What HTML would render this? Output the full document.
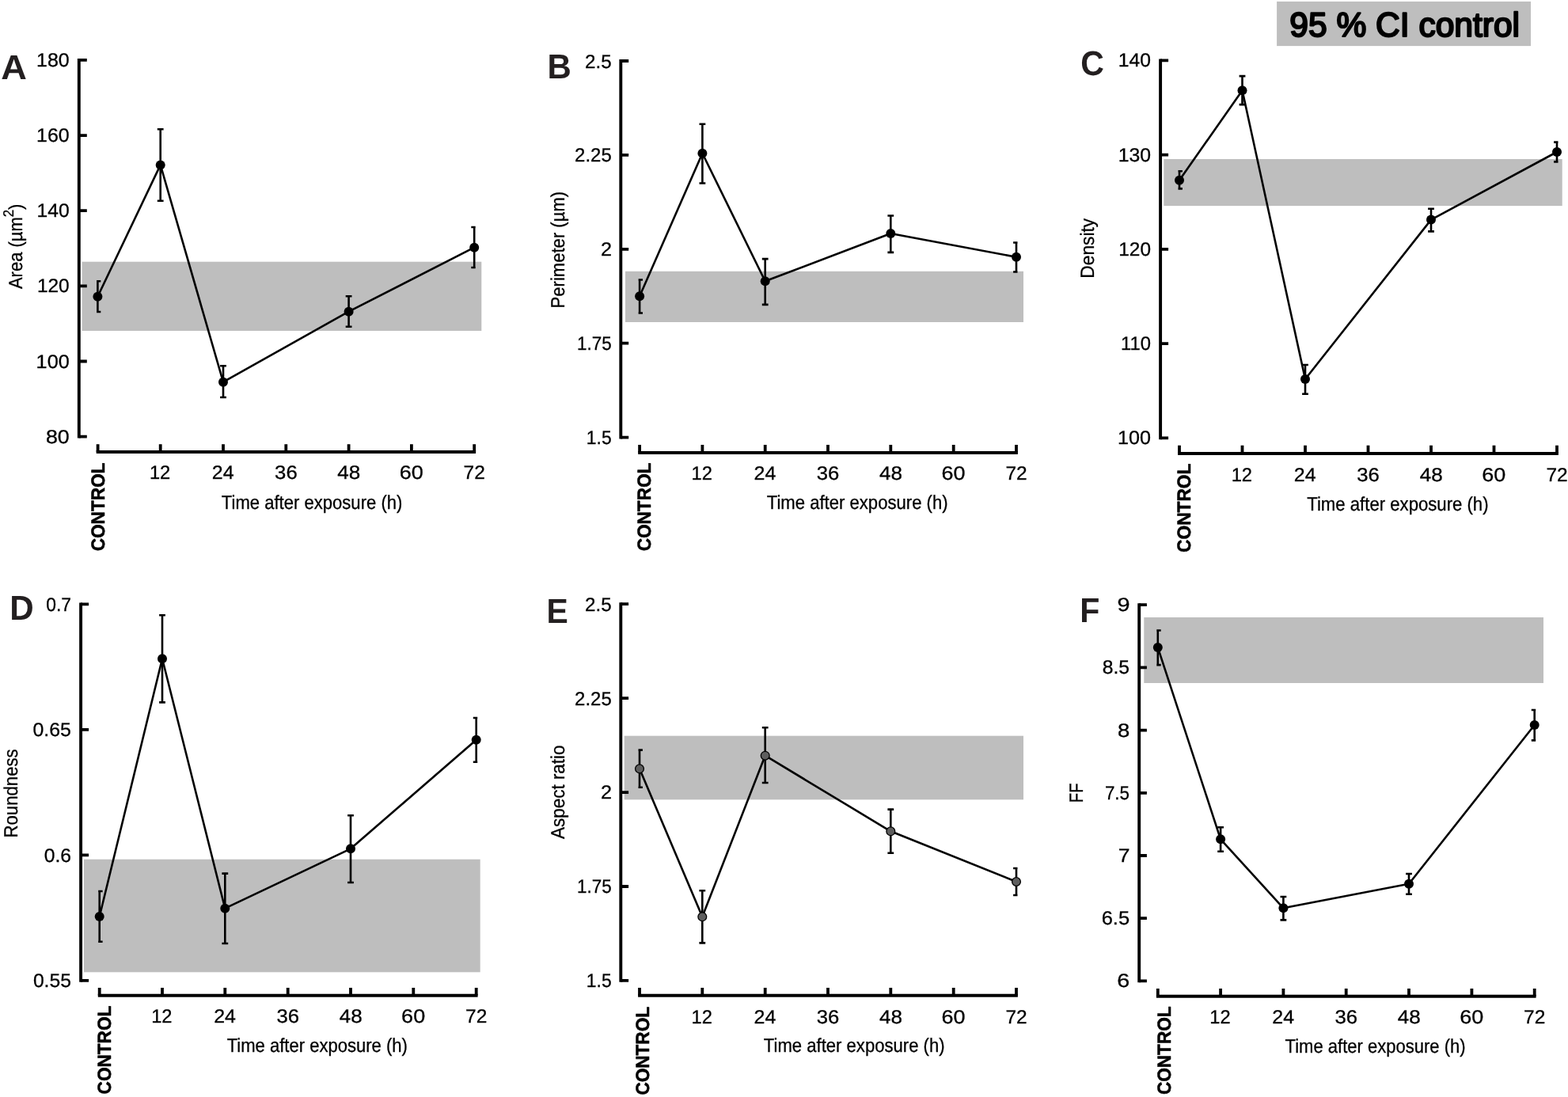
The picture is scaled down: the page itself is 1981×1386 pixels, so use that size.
<!DOCTYPE html>
<html lang="en"><head><meta charset="utf-8"><title>Figure</title>
<style>
html,body{margin:0;padding:0;background:#fff;}
body{width:1981px;height:1386px;overflow:hidden;}
svg{display:block;}
text{font-family:"Liberation Sans", Arial, Helvetica, sans-serif;fill:#000;text-rendering:geometricPrecision;}
.tk,.al,.yl{stroke:#000;stroke-width:0.3px;}
.tk{font-size:24.1px;}
.al{font-size:24.4px;}
.yl{font-size:24.2px;}
.ct{font-size:23.8px;font-weight:bold;stroke:#000;stroke-width:0.6px;stroke-linejoin:round;}
.pl{font-size:43.6px;font-weight:bold;fill:#231f20;}
.lg{font-size:43px;stroke:#000;stroke-width:2.2px;stroke-linejoin:round;}
</style></head><body>
<svg width="1981" height="1386" viewBox="0 0 1981 1386">
<rect x="0" y="0" width="1981" height="1386" fill="#fff"/>
<g id="legend">
<rect x="1613.1" y="1.9" width="320.9" height="56.2" fill="#bebebe"/>
<text class="lg" transform="translate(1629.31 45.7) scale(0.9890 1)">95 % CI control</text>
</g>
<g id="panel-A">
<rect x="103.6" y="330.7" width="504.7" height="87.3" fill="#bebebe"/>
<path d="M99.8 74 V553.55" stroke="#000" stroke-width="3.9" fill="none"/>
<path d="M99.8 75.9 H109.8M99.8 171.05 H109.8M99.8 266.2 H109.8M99.8 361.35 H109.8M99.8 456.5 H109.8M99.8 551.65 H109.8" stroke="#000" stroke-width="3.8" fill="none"/>
<text class="tk" transform="translate(46.04 83.95) scale(1.0347 1)">180</text>
<text class="tk" transform="translate(46.04 179.1) scale(1.0347 1)">160</text>
<text class="tk" transform="translate(46.46 274.25) scale(1.0240 1)">140</text>
<text class="tk" transform="translate(46.88 369.4) scale(1.0133 1)">120</text>
<text class="tk" transform="translate(45.62 464.55) scale(1.0453 1)">100</text>
<text class="tk" transform="translate(57.89 559.7) scale(1.1124 1)">80</text>
<text class="yl" transform="translate(27.8 365.05) rotate(-90) scale(0.9081 1)">Area (µm<tspan dy="-11.3" font-size="18.5">2</tspan><tspan dy="11.3">)</tspan></text>
<path d="M121.7 571 H601.1" stroke="#000" stroke-width="3.9" fill="none"/>
<path d="M123.6 571 V561.2M202.7 571 V561.2M282 571 V561.2M361.3 571 V561.2M440.6 571 V561.2M519.9 571 V561.2M599.2 571 V561.2" stroke="#000" stroke-width="3.8" fill="none"/>
<text class="tk" transform="translate(188.88 605.3) scale(0.9832 1)">12</text>
<text class="tk" transform="translate(267.86 605.3) scale(1.0361 1)">24</text>
<text class="tk" transform="translate(347.09 605.3) scale(1.0664 1)">36</text>
<text class="tk" transform="translate(426.36 605.3) scale(1.0812 1)">48</text>
<text class="tk" transform="translate(504.7 605.3) scale(1.1215 1)">60</text>
<text class="tk" transform="translate(585.58 605.3) scale(1.0164 1)">72</text>
<text class="ct" transform="translate(131.95 696.32) rotate(-90) scale(0.9498 1)">CONTROL</text>
<text class="al" transform="translate(279.85 643.3) scale(0.9047 1)">Time after exposure (h)</text>
<path d="M123.4 354 V395.3 M122.1 355.3 H127.3 M122.1 394 H127.3M202.7 162 V255 M198.8 163.3 H206.6 M198.8 253.7 H206.6M282 461 V503.3 M278.1 462.3 H285.9 M278.1 502 H285.9M440.6 373 V414 M436.7 374.3 H444.5 M436.7 412.7 H444.5M599.2 285.7 V339.3 M595.3 287 H600.7 M595.3 338 H600.7" stroke="#000" stroke-width="2.6" fill="none"/>
<path d="M123.4 374.7 L202.7 208.4 L282 482.7 L440.6 393.7 L599.2 312.7" stroke="#000" stroke-width="2.6" fill="none" stroke-linejoin="round"/>
<circle cx="123.4" cy="374.7" r="6.0" fill="#000"/>
<circle cx="202.7" cy="208.4" r="6.0" fill="#000"/>
<circle cx="282" cy="482.7" r="6.0" fill="#000"/>
<circle cx="440.6" cy="393.7" r="6.0" fill="#000"/>
<circle cx="599.2" cy="312.7" r="6.0" fill="#000"/>
<text class="pl" transform="translate(1.31 99.8) scale(1.0375 1)">A</text>
</g>
<g id="panel-B">
<rect x="790" y="342.8" width="503" height="64.2" fill="#bebebe"/>
<path d="M784.3 75.1 V554.5" stroke="#000" stroke-width="3.9" fill="none"/>
<path d="M784.3 77 H794.2M784.3 195.9 H794.2M784.3 314.8 H794.2M784.3 433.7 H794.2M784.3 552.6 H794.2" stroke="#000" stroke-width="3.8" fill="none"/>
<text class="tk" transform="translate(739.1 85.5) scale(1.0032 1)">2.5</text>
<text class="tk" transform="translate(726.11 204.4) scale(0.9933 1)">2.25</text>
<text class="tk" transform="translate(758.95 323.3) scale(1.0455 1)">2</text>
<text class="tk" transform="translate(728.92 442.2) scale(0.9320 1)">1.75</text>
<text class="tk" transform="translate(740.79 561.1) scale(0.9511 1)">1.5</text>
<text class="yl" transform="translate(713 389.38) rotate(-90) scale(0.9120 1)">Perimeter (µm)</text>
<path d="M806.2 572 H1285.9" stroke="#000" stroke-width="3.9" fill="none"/>
<path d="M808.1 572 V562.1M887.4 572 V562.1M966.7 572 V562.1M1046 572 V562.1M1125.3 572 V562.1M1204.7 572 V562.1M1284 572 V562.1" stroke="#000" stroke-width="3.8" fill="none"/>
<text class="tk" transform="translate(873.58 606.1) scale(0.9832 1)">12</text>
<text class="tk" transform="translate(952.56 606.1) scale(1.0361 1)">24</text>
<text class="tk" transform="translate(1031.79 606.1) scale(1.0664 1)">36</text>
<text class="tk" transform="translate(1111.06 606.1) scale(1.0812 1)">48</text>
<text class="tk" transform="translate(1189.5 606.1) scale(1.1215 1)">60</text>
<text class="tk" transform="translate(1270.38 606.1) scale(1.0164 1)">72</text>
<text class="ct" transform="translate(822.3 696.32) rotate(-90) scale(0.9490 1)">CONTROL</text>
<text class="al" transform="translate(968.75 642.8) scale(0.9059 1)">Time after exposure (h)</text>
<path d="M808.1 352.2 V396.8 M806.6 353.5 H812 M806.6 395.5 H812M887.4 155.5 V232.8 M883.5 156.8 H891.3 M883.5 231.5 H891.3M966.7 325.8 V386.2 M962.8 327.1 H970.6 M962.8 384.9 H970.6M1125.3 271.2 V320.2 M1121.4 272.5 H1129.2 M1121.4 318.9 H1129.2M1284 305.2 V344.8 M1280.1 306.5 H1285.5 M1280.1 343.5 H1285.5" stroke="#000" stroke-width="2.6" fill="none"/>
<path d="M808.1 374.2 L887.4 193.7 L966.7 355.3 L1125.3 295 L1284 324.7" stroke="#000" stroke-width="2.6" fill="none" stroke-linejoin="round"/>
<circle cx="808.1" cy="374.2" r="6.0" fill="#000"/>
<circle cx="887.4" cy="193.7" r="6.0" fill="#000"/>
<circle cx="966.7" cy="355.3" r="6.0" fill="#000"/>
<circle cx="1125.3" cy="295" r="6.0" fill="#000"/>
<circle cx="1284" cy="324.7" r="6.0" fill="#000"/>
<text class="pl" transform="translate(691.61 99.1) scale(0.9606 1)">B</text>
</g>
<g id="panel-C">
<rect x="1470.3" y="201" width="503.4" height="59.1" fill="#bebebe"/>
<path d="M1466.1 74.4 V555.3" stroke="#000" stroke-width="3.9" fill="none"/>
<path d="M1466.1 76.3 H1476.1M1466.1 195.6 H1476.1M1466.1 314.85 H1476.1M1466.1 434.1 H1476.1M1466.1 553.4 H1476.1" stroke="#000" stroke-width="3.8" fill="none"/>
<text class="tk" transform="translate(1412.86 84.2) scale(1.0240 1)">140</text>
<text class="tk" transform="translate(1412.65 203.5) scale(1.0293 1)">130</text>
<text class="tk" transform="translate(1413.28 322.75) scale(1.0133 1)">120</text>
<text class="tk" transform="translate(1416.02 442) scale(0.9888 1)">110</text>
<text class="tk" transform="translate(1412.02 561.3) scale(1.0453 1)">100</text>
<text class="yl" transform="translate(1382.3 351.63) rotate(-90) scale(0.9397 1)">Density</text>
<path d="M1488.1 572.95 H1968.9" stroke="#000" stroke-width="3.9" fill="none"/>
<path d="M1490 572.95 V562.8M1569.5 572.95 V562.8M1649 572.95 V562.8M1728.5 572.95 V562.8M1808 572.95 V562.8M1887.5 572.95 V562.8M1967 572.95 V562.8" stroke="#000" stroke-width="3.8" fill="none"/>
<text class="tk" transform="translate(1555.68 607.75) scale(0.9832 1)">12</text>
<text class="tk" transform="translate(1634.86 607.75) scale(1.0361 1)">24</text>
<text class="tk" transform="translate(1714.29 607.75) scale(1.0664 1)">36</text>
<text class="tk" transform="translate(1793.76 607.75) scale(1.0812 1)">48</text>
<text class="tk" transform="translate(1872.3 607.75) scale(1.1215 1)">60</text>
<text class="tk" transform="translate(1953.38 607.75) scale(1.0164 1)">72</text>
<text class="ct" transform="translate(1503.7 697.92) rotate(-90) scale(0.9541 1)">CONTROL</text>
<text class="al" transform="translate(1651.25 644.8) scale(0.9079 1)">Time after exposure (h)</text>
<path d="M1490 215 V239.7 M1488.5 216.3 H1493.9 M1488.5 238.4 H1493.9M1569.5 94.8 V133.4 M1565.6 96.1 H1573.4 M1565.6 132.1 H1573.4M1649 459.7 V499 M1645.1 461 H1652.9 M1645.1 497.7 H1652.9M1808 262.4 V293.7 M1804.1 263.7 H1811.9 M1804.1 292.4 H1811.9M1967 178.3 V205.7 M1963.1 179.6 H1968.5 M1963.1 204.4 H1968.5" stroke="#000" stroke-width="2.6" fill="none"/>
<path d="M1490 227.7 L1569.5 114.3 L1649 479 L1808 277.6 L1967 192" stroke="#000" stroke-width="2.6" fill="none" stroke-linejoin="round"/>
<circle cx="1490" cy="227.7" r="6.0" fill="#000"/>
<circle cx="1569.5" cy="114.3" r="6.0" fill="#000"/>
<circle cx="1649" cy="479" r="6.0" fill="#000"/>
<circle cx="1808" cy="277.6" r="6.0" fill="#000"/>
<circle cx="1967" cy="192" r="6.0" fill="#000"/>
<text class="pl" transform="translate(1365.35 95.15) scale(0.9422 1)">C</text>
</g>
<g id="panel-D">
<rect x="106" y="1085.7" width="500.7" height="142.6" fill="#bebebe"/>
<path d="M102.1 761.4 V1240.8" stroke="#000" stroke-width="3.9" fill="none"/>
<path d="M102.1 763.3 H112.1M102.1 921.9 H112.1M102.1 1080.4 H112.1M102.1 1238.9 H112.1" stroke="#000" stroke-width="3.8" fill="none"/>
<text class="tk" transform="translate(58.25 771.7) scale(0.9490 1)">0.7</text>
<text class="tk" transform="translate(41.47 930.3) scale(1.0333 1)">0.65</text>
<text class="tk" transform="translate(55.68 1088.8) scale(1.0238 1)">0.6</text>
<text class="tk" transform="translate(41.88 1247.3) scale(1.0244 1)">0.55</text>
<text class="yl" transform="translate(22.1 1058.49) rotate(-90) scale(0.9168 1)">Roundness</text>
<path d="M123.8 1257.7 H603.6" stroke="#000" stroke-width="3.9" fill="none"/>
<path d="M125.7 1257.7 V1248M205 1257.7 V1248M284.3 1257.7 V1248M363.7 1257.7 V1248M443 1257.7 V1248M522.3 1257.7 V1248M601.7 1257.7 V1248" stroke="#000" stroke-width="3.8" fill="none"/>
<text class="tk" transform="translate(191.18 1291.8) scale(0.9832 1)">12</text>
<text class="tk" transform="translate(270.16 1291.8) scale(1.0361 1)">24</text>
<text class="tk" transform="translate(349.49 1291.8) scale(1.0664 1)">36</text>
<text class="tk" transform="translate(428.76 1291.8) scale(1.0812 1)">48</text>
<text class="tk" transform="translate(507.1 1291.8) scale(1.1215 1)">60</text>
<text class="tk" transform="translate(588.08 1291.8) scale(1.0164 1)">72</text>
<text class="ct" transform="translate(140 1382.42) rotate(-90) scale(0.9498 1)">CONTROL</text>
<text class="al" transform="translate(286.65 1329) scale(0.9039 1)">Time after exposure (h)</text>
<path d="M125.7 1124.7 V1191 M124.2 1126 H129.6 M124.2 1189.7 H129.6M205 776 V888.7 M201.1 777.3 H208.9 M201.1 887.4 H208.9M284.3 1102.3 V1193.3 M280.4 1103.6 H288.2 M280.4 1192 H288.2M443 1029 V1116.3 M439.1 1030.3 H446.9 M439.1 1115 H446.9M601.7 905.7 V964 M597.8 907 H603.2 M597.8 962.7 H603.2" stroke="#000" stroke-width="2.6" fill="none"/>
<path d="M125.7 1158 L205 832.3 L284.3 1147.7 L443 1072.3 L601.7 934.7" stroke="#000" stroke-width="2.6" fill="none" stroke-linejoin="round"/>
<circle cx="125.7" cy="1158" r="6.0" fill="#000"/>
<circle cx="205" cy="832.3" r="6.0" fill="#000"/>
<circle cx="284.3" cy="1147.7" r="6.0" fill="#000"/>
<circle cx="443" cy="1072.3" r="6.0" fill="#000"/>
<circle cx="601.7" cy="934.7" r="6.0" fill="#000"/>
<text class="pl" transform="translate(12.2 782.8) scale(0.9664 1)">D</text>
</g>
<g id="panel-E">
<rect x="788.7" y="929.7" width="504.3" height="80.6" fill="#bebebe"/>
<path d="M784.3 761.3 V1240.8" stroke="#000" stroke-width="3.9" fill="none"/>
<path d="M784.3 763.2 H794.1M784.3 882.2 H794.1M784.3 1001.1 H794.1M784.3 1120 H794.1M784.3 1238.9 H794.1" stroke="#000" stroke-width="3.8" fill="none"/>
<text class="tk" transform="translate(739.1 771.55) scale(1.0032 1)">2.5</text>
<text class="tk" transform="translate(726.11 890.55) scale(0.9933 1)">2.25</text>
<text class="tk" transform="translate(758.95 1009.45) scale(1.0455 1)">2</text>
<text class="tk" transform="translate(728.92 1128.35) scale(0.9320 1)">1.75</text>
<text class="tk" transform="translate(740.79 1247.25) scale(0.9511 1)">1.5</text>
<text class="yl" transform="translate(713.1 1060.05) rotate(-90) scale(0.9290 1)">Aspect ratio</text>
<path d="M806.1 1257.7 H1285.9" stroke="#000" stroke-width="3.9" fill="none"/>
<path d="M808 1257.7 V1248M887.3 1257.7 V1248M966.7 1257.7 V1248M1046 1257.7 V1248M1125.3 1257.7 V1248M1204.7 1257.7 V1248M1284 1257.7 V1248" stroke="#000" stroke-width="3.8" fill="none"/>
<text class="tk" transform="translate(873.48 1292.55) scale(0.9832 1)">12</text>
<text class="tk" transform="translate(952.56 1292.55) scale(1.0361 1)">24</text>
<text class="tk" transform="translate(1031.79 1292.55) scale(1.0664 1)">36</text>
<text class="tk" transform="translate(1111.06 1292.55) scale(1.0812 1)">48</text>
<text class="tk" transform="translate(1189.5 1292.55) scale(1.1215 1)">60</text>
<text class="tk" transform="translate(1270.38 1292.55) scale(1.0164 1)">72</text>
<text class="ct" transform="translate(820.2 1383.62) rotate(-90) scale(0.9490 1)">CONTROL</text>
<text class="al" transform="translate(964.85 1328.75) scale(0.9055 1)">Time after exposure (h)</text>
<path d="M808 946.3 V996 M806.5 947.6 H811.9 M806.5 994.7 H811.9M887.3 1124 V1192.7 M883.4 1125.3 H891.2 M883.4 1191.4 H891.2M966.7 918 V990.3 M962.8 919.3 H970.6 M962.8 989 H970.6M1125.3 1021.3 V1079 M1121.4 1022.6 H1129.2 M1121.4 1077.7 H1129.2M1284 1095.7 V1132.3 M1280.1 1097 H1285.5 M1280.1 1131 H1285.5" stroke="#000" stroke-width="2.6" fill="none"/>
<path d="M808 971.3 L887.3 1158.3 L966.7 954.7 L1125.3 1050.3 L1284 1114" stroke="#000" stroke-width="2.6" fill="none" stroke-linejoin="round"/>
<circle cx="808" cy="971.3" r="5.4" fill="#5e5e5e" stroke="#000" stroke-width="1.3"/>
<circle cx="887.3" cy="1158.3" r="5.4" fill="#5e5e5e" stroke="#000" stroke-width="1.3"/>
<circle cx="966.7" cy="954.7" r="5.4" fill="#5e5e5e" stroke="#000" stroke-width="1.3"/>
<circle cx="1125.3" cy="1050.3" r="5.4" fill="#5e5e5e" stroke="#000" stroke-width="1.3"/>
<circle cx="1284" cy="1114" r="5.4" fill="#5e5e5e" stroke="#000" stroke-width="1.3"/>
<text class="pl" transform="translate(690.38 787) scale(0.9388 1)">E</text>
</g>
<g id="panel-F">
<rect x="1445.3" y="780" width="504.7" height="83" fill="#bebebe"/>
<path d="M1439.2 762.3 V1241.3" stroke="#000" stroke-width="3.9" fill="none"/>
<path d="M1439.2 764.2 H1448.9M1439.2 843.4 H1448.9M1439.2 922.6 H1448.9M1439.2 1001.8 H1448.9M1439.2 1081 H1448.9M1439.2 1160.2 H1448.9M1439.2 1239.4 H1448.9" stroke="#000" stroke-width="3.8" fill="none"/>
<text class="tk" transform="translate(1411.38 772.25) scale(1.1964 1)">9</text>
<text class="tk" transform="translate(1392.77 851.45) scale(1.0254 1)">8.5</text>
<text class="tk" transform="translate(1411.96 930.65) scale(1.1404 1)">8</text>
<text class="tk" transform="translate(1395.88 1009.85) scale(0.9297 1)">7.5</text>
<text class="tk" transform="translate(1412.68 1089.05) scale(1.1000 1)">7</text>
<text class="tk" transform="translate(1391.63 1168.25) scale(1.0607 1)">6.5</text>
<text class="tk" transform="translate(1411.37 1247.45) scale(1.1928 1)">6</text>
<text class="yl" transform="translate(1367.7 1014.14) rotate(-90) scale(0.8390 1)">FF</text>
<path d="M1460.9 1258.7 H1940.6" stroke="#000" stroke-width="3.9" fill="none"/>
<path d="M1462.8 1258.7 V1249M1542.1 1258.7 V1249M1621.4 1258.7 V1249M1700.7 1258.7 V1249M1780 1258.7 V1249M1859.4 1258.7 V1249M1938.7 1258.7 V1249" stroke="#000" stroke-width="3.8" fill="none"/>
<text class="tk" transform="translate(1528.28 1293.3) scale(0.9832 1)">12</text>
<text class="tk" transform="translate(1607.26 1293.3) scale(1.0361 1)">24</text>
<text class="tk" transform="translate(1686.49 1293.3) scale(1.0664 1)">36</text>
<text class="tk" transform="translate(1765.76 1293.3) scale(1.0812 1)">48</text>
<text class="tk" transform="translate(1844.2 1293.3) scale(1.1215 1)">60</text>
<text class="tk" transform="translate(1925.08 1293.3) scale(1.0164 1)">72</text>
<text class="ct" transform="translate(1478.6 1383.12) rotate(-90) scale(0.9498 1)">CONTROL</text>
<text class="al" transform="translate(1623.55 1330.2) scale(0.9027 1)">Time after exposure (h)</text>
<path d="M1462.8 795.2 V841.4 M1461.3 796.5 H1466.7 M1461.3 840.1 H1466.7M1542.1 1044 V1077 M1538.2 1045.3 H1546 M1538.2 1075.7 H1546M1621.4 1131.7 V1163.7 M1617.5 1133 H1625.3 M1617.5 1162.4 H1625.3M1780 1102.7 V1131 M1776.1 1104 H1783.9 M1776.1 1129.7 H1783.9M1938.7 895.7 V936.7 M1934.8 897 H1940.2 M1934.8 935.4 H1940.2" stroke="#000" stroke-width="2.6" fill="none"/>
<path d="M1462.8 818.1 L1542.1 1060.3 L1621.4 1147.3 L1780 1116.7 L1938.7 916" stroke="#000" stroke-width="2.6" fill="none" stroke-linejoin="round"/>
<circle cx="1462.8" cy="818.1" r="6.0" fill="#000"/>
<circle cx="1542.1" cy="1060.3" r="6.0" fill="#000"/>
<circle cx="1621.4" cy="1147.3" r="6.0" fill="#000"/>
<circle cx="1780" cy="1116.7" r="6.0" fill="#000"/>
<circle cx="1938.7" cy="916" r="6.0" fill="#000"/>
<text class="pl" transform="translate(1364.16 786.1) scale(0.9436 1)">F</text>
</g>
</svg></body></html>
